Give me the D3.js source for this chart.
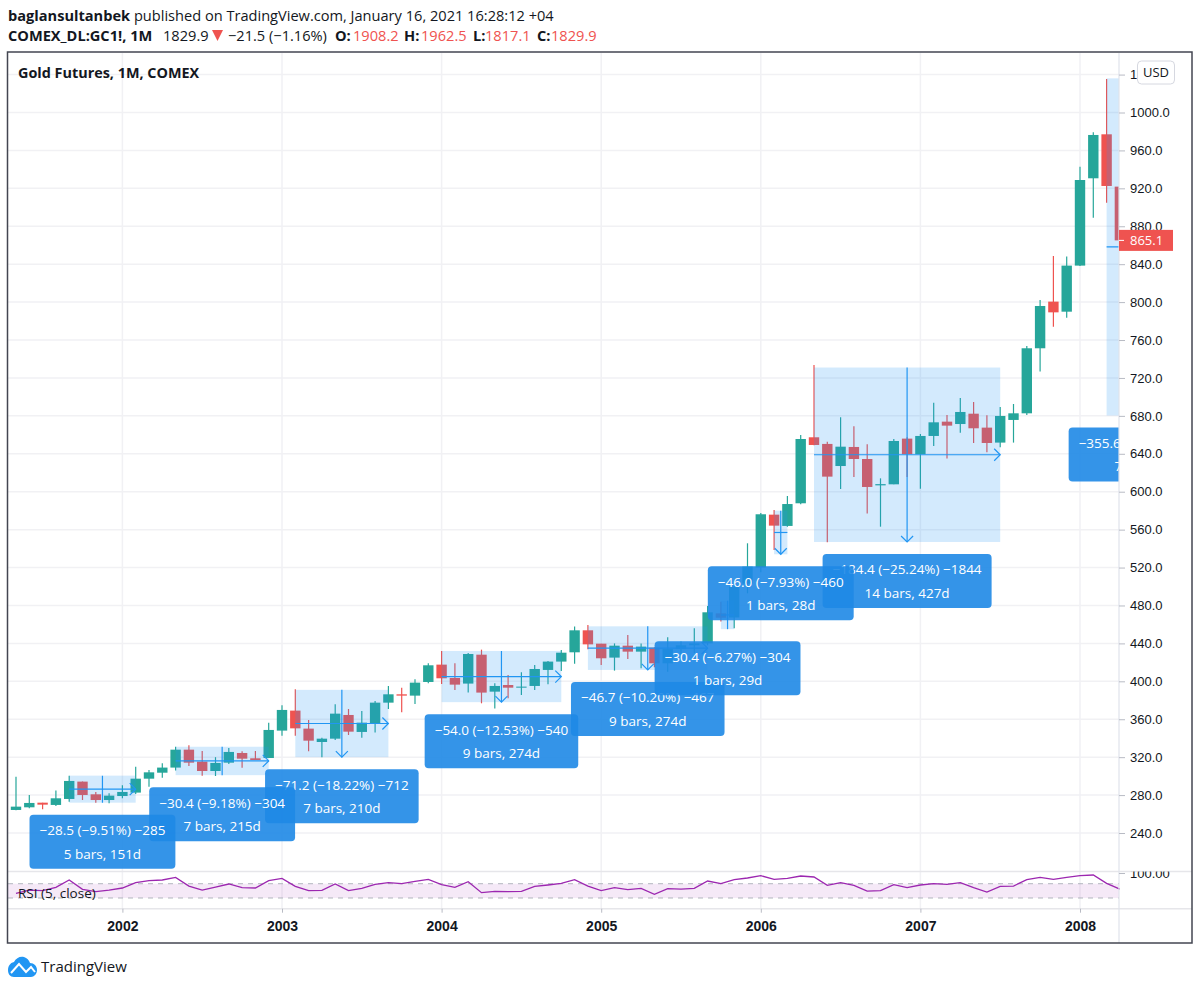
<!DOCTYPE html>
<html>
<head>
<meta charset="utf-8">
<script src="https://cdnjs.cloudflare.com/ajax/libs/d3/7.8.5/d3.min.js"></script>
<style>
  html, body { margin: 0; padding: 0; background: #fff; }
  svg { display: block; font-family: "Open Sans", sans-serif; }
  .price-axis text, .rsi-axis text { font-size: 13px; fill: #131722; }
  .time-axis text { font-size: 14px; font-weight: 600; fill: #131722; }
  .tick line { stroke: #b8bbc4; }
  .grid line { stroke: #f1f1f4; stroke-width: 1.5; }
</style>
</head>
<body>
<script>
const w = 1200;
const h = 988;

// monthly candles, May 2001 onwards
const opens = [264.3, 267.1, 272, 269.6, 275.9, 294.2, 280.8, 274.8, 279, 282.6, 297.3, 303.6, 309, 327.9, 315.3, 305.4, 314.2, 324.4, 318.8, 319.1, 348, 369.1, 350.1, 336, 339.5, 364.5, 346.6, 355.7, 377.5, 386.3, 384.9, 399.3, 417.6, 403.5, 397.6, 428.1, 389.1, 396.1, 393.3, 395.1, 412, 420.8, 430.6, 453.8, 439.7, 425, 437.6, 431.3, 435.5, 419, 434, 438, 440, 471.7, 467.3, 503, 520, 575.8, 563.9, 587.8, 657.4, 650.4, 627.1, 647.2, 634.5, 606.7, 607.8, 656, 639.5, 658.8, 673.9, 671.4, 682.3, 667.6, 651.8, 675.7, 682.7, 751.3, 800.5, 789.9, 838.5, 930.6, 977, 921.8];
const highs = [299.4, 280.1, 272, 284.7, 300.5, 294.2, 283.3, 281.9, 290.3, 310, 306.5, 313.5, 331, 332.5, 326.5, 320, 329.7, 326.2, 326.5, 356.4, 374.7, 391.6, 359.2, 340.6, 375.7, 370.8, 368.7, 379.3, 395, 393.3, 402.1, 419, 432, 419, 429.8, 433.4, 397.9, 406.7, 409.5, 417.2, 421.5, 433, 457.7, 459.4, 439.7, 440, 448.9, 440, 436, 446.4, 442, 455.9, 479.5, 484, 503, 545.6, 577.5, 580.7, 595.5, 659.8, 733.7, 652.8, 678.5, 669, 650, 614.1, 655.6, 657.4, 660.9, 693.9, 680.9, 698.9, 694.6, 680.6, 689.4, 692.5, 753.7, 802.2, 848.7, 848, 942.9, 979.1, 1035.4, 925];
const lows = [264, 266, 265, 268.5, 273, 274.8, 272, 271.3, 276.6, 281.2, 288.9, 298.4, 305.8, 310.7, 300.5, 300, 312.8, 308.9, 317, 319, 342.7, 342.7, 326.2, 319.8, 338, 343.4, 340.6, 345.9, 370.8, 367.3, 376.1, 397.9, 397.2, 390.9, 388.1, 376.8, 371.2, 382.1, 385.6, 390.9, 396.8, 410.9, 418.6, 433.8, 417.2, 411.3, 423.6, 413.7, 414.8, 410, 428, 430, 438, 463, 456, 492.8, 515, 538.5, 563, 586.7, 649, 546.6, 602.9, 615.5, 576.9, 563.1, 607.8, 615.5, 603.2, 648.2, 634.9, 662.3, 651.4, 641.6, 646.8, 651.8, 680.9, 726.7, 774.1, 783.6, 838, 889.1, 904.9, 850];
const closes = [267.8, 271.7, 269.9, 276.6, 294.9, 280.1, 274.8, 279.4, 283.3, 297.3, 304, 309, 327.9, 314.2, 305.4, 313.9, 325.5, 318.4, 317, 348.7, 369.8, 350.4, 337.4, 339.5, 365.9, 346.9, 356.4, 377.5, 386.3, 384.9, 398.6, 416.9, 403.2, 396.5, 428.8, 388.1, 395.1, 393.3, 394.4, 413, 420.8, 430.2, 453.8, 439, 424.3, 437.6, 431.3, 436.6, 419, 434, 438, 440, 472.8, 467.1, 499.9, 521, 576.2, 564.2, 587, 655.6, 649.3, 615.9, 647.5, 634.5, 605, 608, 653.5, 639.5, 658.8, 673.2, 669.7, 684.1, 666.9, 651.4, 679.9, 682.7, 751.3, 795.9, 789.2, 838.5, 928.8, 976.3, 922.5, 865.1];
const rsi = [43, 52.3, 50.5, 59.8, 80.4, 54.2, 47.7, 52.3, 58, 72.9, 78.5, 80.4, 87.8, 63.5, 52.3, 60.7, 69.2, 58.9, 58, 78.5, 85, 62.6, 50.5, 51.4, 69.2, 50.5, 57, 68.2, 72.9, 70.1, 76.6, 82.2, 67.3, 59.8, 75.7, 44.9, 48.6, 47.7, 48.6, 62.6, 66.4, 71, 81.3, 63.5, 50.5, 58.9, 53.3, 57, 40.2, 56.1, 55.1, 57, 77.6, 70.1, 81.3, 86, 92.5, 82.2, 85, 91.6, 88.8, 65.4, 72.9, 65.4, 49.5, 50.5, 67.3, 58.9, 66.4, 70.1, 68.2, 72.9, 58.9, 46.7, 62.6, 63.5, 81.3, 87.8, 82.2, 87.8, 92.5, 94.4, 71, 55.1];

const priceTicks = [240, 280, 320, 360, 400, 440, 480, 520, 560, 600, 640, 680, 720, 760, 800, 840, 880, 920, 960, 1000, 1040];
const yearBars = [8, 20, 32, 44, 56, 68, 80];
const yearLabels = ["2002", "2003", "2004", "2005", "2006", "2007", "2008"];

// price range tools, in drawing order
const rangeStart = [21, 12, 4, 32, 43, 53, 60, 57, 82];
const rangeEnd = [28, 19, 9, 41, 52, 54, 74, 58, 89];
const rangeTop = [391, 331, 300.5, 432, 458, 485, 731, 580, 1036];
const rangeBottom = [320, 301, 272, 378, 412, 455, 547, 534, 680.4];
const rangeLine1 = ["−71.2 (−18.22%) −712", "−30.4 (−9.18%) −304", "−28.5 (−9.51%) −285", "−54.0 (−12.53%) −540", "−46.7 (−10.20%) −467", "−30.4 (−6.27%) −304", "−184.4 (−25.24%) −1844", "−46.0 (−7.93%) −460", "−355.6 (−34.32%) −3556"];
const rangeLine2 = ["7 bars, 210d", "7 bars, 215d", "5 bars, 151d", "9 bars, 274d", "9 bars, 274d", "1 bars, 29d", "14 bars, 427d", "1 bars, 28d", "7 bars, 212d"];

const paneLeft = 8;
const paneRight = 1119;
const paneTop = 53;
const paneBottom = 871.5;
const rsiBottom = 908.7;
const frameRight = 1192;
const frameBottom = 943;
const blue = "#2196f3";
const up = "#26a69a";
const down = "#ef5350";

const svg = d3.select("body").append("svg").attr("width", w).attr("height", h);

const x = d3.scaleLinear().domain([0, 83]).range([16, 1119.9]);
const y = d3.scaleLinear().domain([240, 1000]).range([833, 112.5]);
const yRsi = d3.scaleLinear().domain([0, 100]).range([rsiBottom, 873]);

const defs = svg.append("defs");
defs.append("clipPath").attr("id", "pane").append("rect")
  .attr("x", paneLeft).attr("y", paneTop)
  .attr("width", paneRight - paneLeft).attr("height", paneBottom - paneTop);
defs.append("clipPath").attr("id", "rsi-axis-clip").append("rect")
  .attr("x", paneRight).attr("y", paneBottom)
  .attr("width", frameRight - paneRight).attr("height", rsiBottom - paneBottom);

// grid
const grid = svg.append("g").attr("class", "grid");
grid.selectAll(".h").data(priceTicks).enter().append("line")
  .attr("x1", paneLeft).attr("x2", paneRight)
  .attr("y1", d => y(d)).attr("y2", d => y(d));
grid.selectAll(".v").data(yearBars).enter().append("line")
  .attr("x1", d => x(d)).attr("x2", d => x(d))
  .attr("y1", paneTop).attr("y2", rsiBottom);

// candles
const pane = svg.append("g").attr("clip-path", "url(#pane)");
const bars = d3.range(opens.length);
const color = i => closes[i] >= opens[i] ? up : down;

pane.selectAll(".wick").data(bars).enter().append("line")
  .attr("x1", i => x(i)).attr("x2", i => x(i))
  .attr("y1", i => y(highs[i])).attr("y2", i => y(lows[i]))
  .attr("stroke", color).attr("stroke-width", 1.2);

pane.selectAll(".body").data(bars).enter().append("rect")
  .attr("x", i => x(i) - 5.2)
  .attr("width", 10.4)
  .attr("y", i => y(Math.max(opens[i], closes[i])))
  .attr("height", i => Math.max(1, Math.abs(y(opens[i]) - y(closes[i]))))
  .attr("fill", color);

// price range tools
rangeStart.forEach(function (s, i) {
  const g = pane.append("g");
  const x0 = x(s);
  const x1 = x(rangeEnd[i]);
  const midX = (x0 + x1) / 2;
  const top = y(rangeTop[i]);
  const bottom = y(rangeBottom[i]);
  const midY = (top + bottom) / 2;

  g.append("rect")
    .attr("x", x0).attr("y", top)
    .attr("width", x1 - x0).attr("height", bottom - top)
    .attr("fill", blue).attr("fill-opacity", 0.2);

  const line = d3.line();
  const arrows = [
    [[x0, midY], [x1, midY]],
    [[midX, top], [midX, bottom]]
  ];
  // the tool leaves the arrow head off when it has no room
  if (x1 - x0 > 30) arrows.push([[x1 - 6, midY - 6], [x1, midY], [x1 - 6, midY + 6]]);
  if (bottom - top > 30) arrows.push([[midX - 6, bottom - 6], [midX, bottom], [midX + 6, bottom - 6]]);
  g.selectAll("path").data(arrows).enter().append("path")
    .attr("d", line)
    .attr("fill", "none")
    .attr("stroke", blue)
    .attr("stroke-width", 1.2);

  // label box sized from its text
  const boxTop = bottom + 12;
  const label = g.append("g");
  const box = label.append("rect").attr("y", boxTop).attr("height", 54).attr("rx", 4)
    .attr("fill", "#1e88e5").attr("fill-opacity", 0.9);
  const t1 = label.append("text").attr("x", midX).attr("y", boxTop + 15.5)
    .attr("text-anchor", "middle").attr("dominant-baseline", "central")
    .attr("fill", "#fff").style("font-size", "13.5px").text(rangeLine1[i]);
  label.append("text").attr("x", midX).attr("y", boxTop + 39)
    .attr("text-anchor", "middle").attr("dominant-baseline", "central")
    .attr("fill", "#fff").style("font-size", "13.5px").text(rangeLine2[i]);
  const boxW = t1.node().getComputedTextLength() + 20;
  box.attr("x", midX - boxW / 2).attr("width", boxW);
});

// rsi pane
svg.append("rect")
  .attr("x", paneLeft).attr("width", paneRight - paneLeft)
  .attr("y", yRsi(70)).attr("height", yRsi(30) - yRsi(70))
  .attr("fill", "#9c27b0").attr("fill-opacity", 0.1);
svg.selectAll(".band").data([70, 30]).enter().append("line")
  .attr("x1", paneLeft).attr("x2", paneRight)
  .attr("y1", d => yRsi(d)).attr("y2", d => yRsi(d))
  .attr("stroke", "#b2b5be").attr("stroke-width", 1).attr("stroke-dasharray", "5,5");
svg.append("path").datum(rsi)
  .attr("d", d3.line().x((d, i) => x(i)).y(d => yRsi(d)))
  .attr("fill", "none").attr("stroke", "#9c27b0").attr("stroke-width", 1.3);
svg.append("text").attr("x", 18).attr("y", 893).attr("dominant-baseline", "central")
  .attr("fill", "#131722").style("font-size", "13.5px").text("RSI (5, close)");

// separators
svg.selectAll(".sep").data([paneBottom, rsiBottom]).enter().append("line")
  .attr("x1", paneLeft).attr("x2", frameRight)
  .attr("y1", d => d).attr("y2", d => d)
  .attr("stroke", "#e6e6ea").attr("stroke-width", 1.5);
svg.append("line")
  .attr("x1", paneRight).attr("x2", paneRight)
  .attr("y1", paneTop).attr("y2", frameBottom)
  .attr("stroke", "#e0e3eb").attr("stroke-width", 1.2);

// axes
const priceAxis = d3.axisRight(y).tickValues(priceTicks).tickFormat(d3.format(".1f")).tickSize(6).tickPadding(5);
svg.append("g").attr("class", "price-axis")
  .attr("transform", "translate(" + paneRight + ",0)")
  .call(priceAxis)
  .call(g => g.select(".domain").remove());

const rsiAxis = d3.axisRight(yRsi).tickValues([100]).tickFormat(d3.format(".2f")).tickSize(6).tickPadding(5);
svg.append("g").attr("clip-path", "url(#rsi-axis-clip)")
  .append("g").attr("class", "rsi-axis")
  .attr("transform", "translate(" + paneRight + ",0)")
  .call(rsiAxis)
  .call(g => g.select(".domain").remove());

const timeAxis = d3.axisBottom(x).tickValues(yearBars).tickFormat((d, i) => yearLabels[i]).tickSize(4).tickPadding(8);
svg.append("g").attr("class", "time-axis")
  .attr("transform", "translate(0," + rsiBottom + ")")
  .call(timeAxis)
  .call(g => g.select(".domain").remove());

// last price tag
const lastPrice = closes[closes.length - 1];
svg.append("rect")
  .attr("x", paneRight).attr("y", y(lastPrice) - 10.5)
  .attr("width", 54).attr("height", 21).attr("fill", down);
svg.append("line")
  .attr("x1", paneRight).attr("x2", paneRight + 5)
  .attr("y1", y(lastPrice)).attr("y2", y(lastPrice))
  .attr("stroke", "#fff");
svg.append("text").attr("x", 1130).attr("y", y(lastPrice))
  .attr("dominant-baseline", "central").attr("fill", "#fff")
  .style("font-size", "13px").text(d3.format(".1f")(lastPrice));

// currency button
svg.append("rect").attr("x", 1137.5).attr("y", 61).attr("width", 37).attr("height", 23).attr("rx", 4)
  .attr("fill", "#fff").attr("stroke", "#d6d8e0");
svg.append("text").attr("x", 1156).attr("y", 72).attr("text-anchor", "middle")
  .attr("dominant-baseline", "central").attr("fill", "#131722")
  .style("font-size", "13px").text("USD");

// frame
svg.append("rect")
  .attr("x", paneLeft - 0.5).attr("y", paneTop - 1)
  .attr("width", frameRight - paneLeft + 0.5).attr("height", frameBottom - paneTop + 1)
  .attr("fill", "none").attr("stroke", "#434651").attr("stroke-width", 1.5);

svg.append("text").attr("x", 18).attr("y", 72).attr("dominant-baseline", "central")
  .attr("fill", "#131722").style("font-size", "14.4px").style("font-weight", 700)
  .text("Gold Futures, 1M, COMEX");

// header
const head = svg.append("g").style("font-size", "14.6px").attr("fill", "#131722");
const t = head.append("text").attr("x", 8).attr("y", 15).attr("dominant-baseline", "central");
t.append("tspan").style("font-weight", 700).text("baglansultanbek");
t.append("tspan").text(" published on TradingView.com, January 16, 2021 16:28:12 +04");

const headTexts = ["COMEX_DL:GC1!, 1M", "1829.9", "−21.5 (−1.16%)", "O:", "1908.2", "H:", "1962.5", "L:", "1817.1", "C:", "1829.9"];
const headX = [8, 163, 228, 335, 353, 404, 421, 473, 485, 537, 551];
const headBold = [true, false, false, true, false, true, false, true, false, true, false];
const headRed = [false, false, false, false, true, false, true, false, true, false, true];
head.selectAll(".hd").data(headTexts).enter().append("text")
  .attr("x", (d, i) => headX[i]).attr("y", 35)
  .attr("dominant-baseline", "central")
  .attr("fill", (d, i) => headRed[i] ? down : "#131722")
  .style("font-weight", (d, i) => headBold[i] ? 700 : 400)
  .text(d => d);
head.append("path").attr("d", "M212,30 L223,30 L217.5,41 Z").attr("fill", down);

// logo
const logo = svg.append("g");
logo.append("path")
  .attr("d", "M8,970 C8,966 10,963 14,962 C16,958 20,956 24,957 C27,958 29,960 30,963 C34,963 37,966 37,970 C37,974 34,977 31,977 L14,977 C10,977 8,974 8,970 Z")
  .attr("fill", blue);
logo.append("path")
  .attr("d", "M11,973 L19,964 L26,972 L31,967 L35,972")
  .attr("fill", "none").attr("stroke", "#fff").attr("stroke-width", 2);
svg.append("text").attr("x", 41).attr("y", 966).attr("dominant-baseline", "central")
  .attr("fill", "#131722").style("font-size", "15px").text("TradingView");
</script>
</body>
</html>
